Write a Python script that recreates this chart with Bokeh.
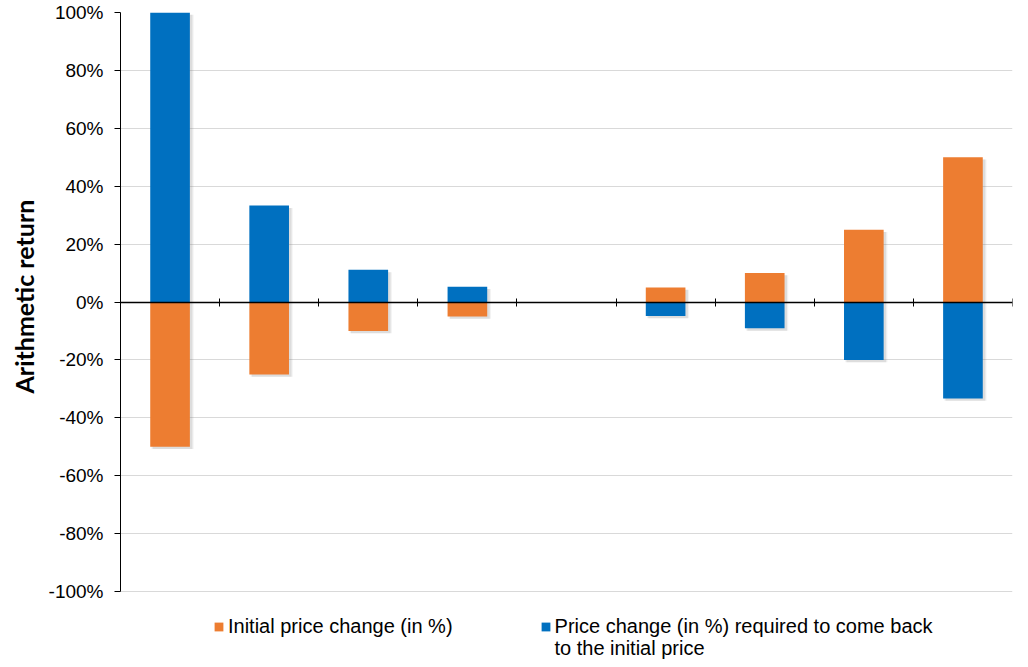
import numpy as np
from bokeh.plotting import figure
from bokeh.models import (FixedTicker, Legend, LegendItem, PrintfTickFormatter,
                          Range1d, LinearAxis, ColumnDataSource, Label, Title)
from bokeh.embed import file_html
from bokeh.resources import INLINE

# ---- data ----
initial_change = [-50, -25, -10, -5, np.nan, 5, 10, 25, 50]
required_change = [100, 33.3, 11.1, 5.3, np.nan, -4.8, -9.1, -20, -33.3]
y_ticks = [-100, -80, -60, -40, -20, 0, 20, 40, 60, 80, 100]
y_title = "Arithmetic return"
series_names = ["Initial price change (in %)",
                ["Price change (in %) required to come back", "to the initial price"]]
series_colors = ["#ED7D31", "#0070C0"]

n = len(initial_change)
xs = np.arange(1, n + 1)
boundaries = [i + 0.5 for i in range(n + 1)]

# ---- layout (pixels) ----
W, H = 1020, 660
BORDER_L, BORDER_R, BORDER_T, BORDER_B = 119, 8, 12, 0
FRAME_H = H - BORDER_T - BORDER_B
PX_PER_UNIT = 579 / 200.0          # 100% .. -100% spans 579 px
y_top = y_ticks[-1]
y_bottom_view = y_top - FRAME_H / PX_PER_UNIT   # extra room below for legend

SH = 0.8  # shadow vertical offset (data units)
src = ColumnDataSource(dict(
    x=xs,
    xs_sh=xs + 0.025,
    initial=initial_change,
    required=required_change,
    zero=[0] * n,
    init_sh=[v - SH for v in initial_change],
    req_sh=[v - SH for v in required_change],
    zero_sh=[-SH] * n,
))

p = figure(width=W, height=H, x_range=Range1d(0.5, n + 0.5),
           y_range=Range1d(y_bottom_view, y_top), output_backend="svg",
           toolbar_location=None, min_border_left=BORDER_L,
           min_border_right=BORDER_R, min_border_top=BORDER_T,
           min_border_bottom=BORDER_B, x_axis_location=None)
p.outline_line_color = None
p.background_fill_color = "white"
p.border_fill_color = "white"

# y axis
p.yaxis.ticker = FixedTicker(ticks=y_ticks)
p.yaxis.bounds = (y_ticks[0], y_ticks[-1])
p.yaxis.formatter = PrintfTickFormatter(format="%d%%")
p.yaxis.axis_line_color = "black"
p.yaxis.major_tick_line_color = "black"
p.yaxis.major_tick_out = 6
p.yaxis.major_tick_in = 0
p.yaxis.minor_tick_line_color = None
p.yaxis.major_label_text_font = "Liberation Sans"
p.yaxis.major_label_text_font_size = "19px"
p.yaxis.major_label_text_color = "black"
p.yaxis.major_label_standoff = 11

# y title placed in the left panel, centred on the -100..100 span
ytitle = Title(text=y_title, align="left", offset=267, vertical_align="bottom",
               standoff=13, text_font="Lato", text_font_style="bold",
               text_font_size="25px", text_color="black")
p.add_layout(ytitle, "left")

p.ygrid.ticker = FixedTicker(ticks=y_ticks)
p.ygrid.grid_line_color = "#d9d9d9"
p.ygrid.grid_line_width = 1
p.xgrid.grid_line_color = None

# soft shadows
for w, a in ((0.425, 0.10), (0.40, 0.18)):
    p.vbar(x="xs_sh", width=w, bottom="zero_sh", top="init_sh", source=src,
           fill_color="#7f7f7f", fill_alpha=a, line_color=None)
    p.vbar(x="xs_sh", width=w, bottom="zero_sh", top="req_sh", source=src,
           fill_color="#7f7f7f", fill_alpha=a, line_color=None)

r_init = p.vbar(x="x", width=0.40, bottom="zero", top="initial", source=src,
                fill_color=series_colors[0], line_color=None)
r_req = p.vbar(x="x", width=0.40, bottom="zero", top="required", source=src,
               fill_color=series_colors[1], line_color=None)

# x axis drawn at zero, ticks between categories
xaxis = LinearAxis(fixed_location=0, ticker=FixedTicker(ticks=boundaries))
xaxis.axis_line_color = "black"
xaxis.axis_line_width = 1.3
xaxis.major_tick_line_color = "black"
xaxis.major_tick_in = 4
xaxis.major_tick_out = 4
xaxis.minor_tick_line_color = None
xaxis.major_label_text_font_size = "0px"
xaxis.major_label_text_alpha = 0
p.add_layout(xaxis, "below")

legend = Legend(items=[LegendItem(label=series_names[0], renderers=[r_init]),
                       LegendItem(label=series_names[1][0], renderers=[r_req])],
                orientation="horizontal", location=(93, 22),
                label_text_font="Liberation Sans", label_text_font_size="20px",
                label_text_color="black", glyph_width=11, glyph_height=11,
                label_standoff=4, spacing=87, border_line_color=None,
                background_fill_alpha=0, padding=4, margin=0)
p.add_layout(legend, "center")

cont = Label(x=434, y=13, x_units="screen", y_units="screen",
             text=series_names[1][1], text_font="Liberation Sans",
             text_font_size="20px", text_color="black", text_baseline="middle")
p.add_layout(cont)

open("out.html", "w").write(file_html(p, INLINE))
